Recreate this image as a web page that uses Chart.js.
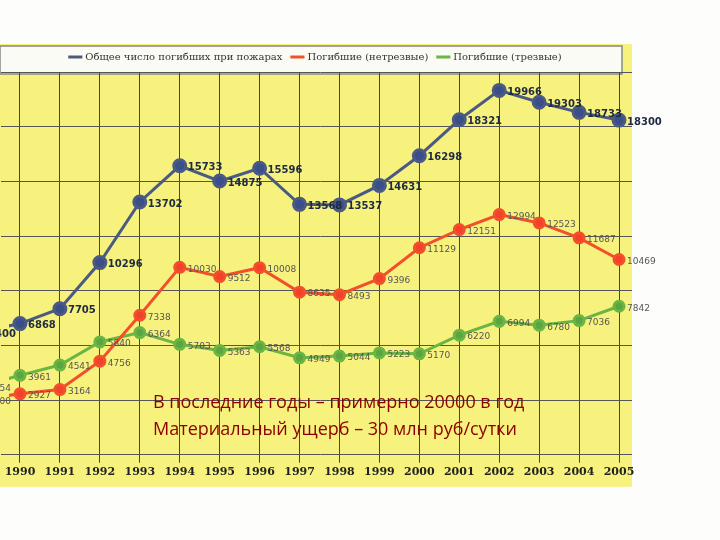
<!DOCTYPE html>
<html><head><meta charset="utf-8">
<script src="https://cdn.jsdelivr.net/npm/chart.js@4"></script>
<style>
body{margin:0;background:#fdfdfb;}
#wrap{position:absolute;left:0;top:0;width:720px;height:540px;}
#note{position:absolute;left:153px;top:388px;font:18px "Open Sans",sans-serif;color:#8b0000;line-height:27px;}
</style></head><body>
<div id="wrap"><canvas id="c" width="720" height="540"></canvas></div>
<div id="note">В последние годы – примерно 20000 в год<br>Материальный ущерб – 30 млн руб/сутки</div>
<script>
const years = [1989,1990,1991,1992,1993,1994,1995,1996,1997,1998,1999,2000,2001,2002,2003,2004,2005];
const totalDead = [6400,6868,7705,10296,13702,15733,14875,15596,13568,13537,14631,16298,18321,19966,19303,18733,18300];
const drunkDead = [2600,2927,3164,4756,7338,10030,9512,10008,8635,8493,9396,11129,12151,12994,12523,11687,10469];
const soberDead = [3354,3961,4541,5840,6364,5703,5363,5568,4949,5044,5223,5170,6220,6994,6780,7036,7842];
const seriesNames = ['Общее число погибших при пожарах','Погибшие (нетрезвые)','Погибшие (трезвые)'];

const toPoints = arr => arr.map((v, i) => ({x: years[i], y: v}));

const yellowBg = {
    id: 'yellowBg',
    beforeDraw(chart) {
        const ctx = chart.ctx, a = chart.chartArea;
        ctx.save();
        ctx.fillStyle = '#f7f27e';
        ctx.fillRect(0, 44, a.right, a.bottom + 32 - 44);
        ctx.fillStyle = '#fbfbf6';
        ctx.fillRect(0, 46, 622, 28);
        ctx.strokeStyle = '#888';
        ctx.lineWidth = 1.5;
        ctx.strokeRect(0, 46, 622, 28);
        ctx.restore();
    }
};

// подписи значений у точек
const valueLabels = {
    id: 'valueLabels',
    afterDatasetsDraw(chart) {
        const ctx = chart.ctx;
        ctx.save();
        chart.data.datasets.forEach((ds, di) => {
            const meta = chart.getDatasetMeta(di);
            ctx.font = di === 0 ? 'bold 10px "DejaVu Sans"' : '9px "DejaVu Sans"';
            ctx.fillStyle = di === 0 ? '#1e2a40' : '#555';
            ctx.textBaseline = 'middle';
            meta.data.forEach((p, i) => {
                ctx.fillText(ds.data[i].y, p.x + 8, p.y + 2);
            });
        });
        ctx.restore();
    }
};

new Chart(document.getElementById('c'), {
    type: 'line',
    data: {
        datasets: [
            {label: seriesNames[0], data: toPoints(totalDead), borderColor: '#4a5a82', backgroundColor: '#3a4f8a', borderWidth: 3, pointRadius: 6},
            {label: seriesNames[1], data: toPoints(drunkDead), borderColor: '#f2502a', backgroundColor: '#f2402a', borderWidth: 3, pointRadius: 5},
            {label: seriesNames[2], data: toPoints(soberDead), borderColor: '#6ab544', backgroundColor: '#5aa540', borderWidth: 3, pointRadius: 5}
        ]
    },
    options: {
        responsive: false,
        animation: false,
        layout: {padding: {right: 88, top: 42, bottom: 58}},
        plugins: {
            legend: {
                labels: {usePointStyle: true, pointStyle: 'line', color: '#333', font: {size: 10, family: 'DejaVu Serif'}, boxWidth: 30},
            },
            tooltip: {enabled: false}
        },
        scales: {
            x: {
                type: 'linear', min: 1989.725, max: 2005.325,
                afterBuildTicks: s => { s.ticks = years.slice(1).map(v => ({value: v})); },
                ticks: {color: '#222', font: {size: 11, weight: 'bold', family: 'DejaVu Serif'}, callback: v => v},
                grid: {color: '#444', lineWidth: 1}, border: {display: false}
            },
            y: {
                min: -500, max: 21000,
                ticks: {display: false, stepSize: 3000},
                grid: {color: '#555', lineWidth: 1}, border: {display: false}
            }
        }
    },
    plugins: [yellowBg, valueLabels]
});
</script>
</body></html>
